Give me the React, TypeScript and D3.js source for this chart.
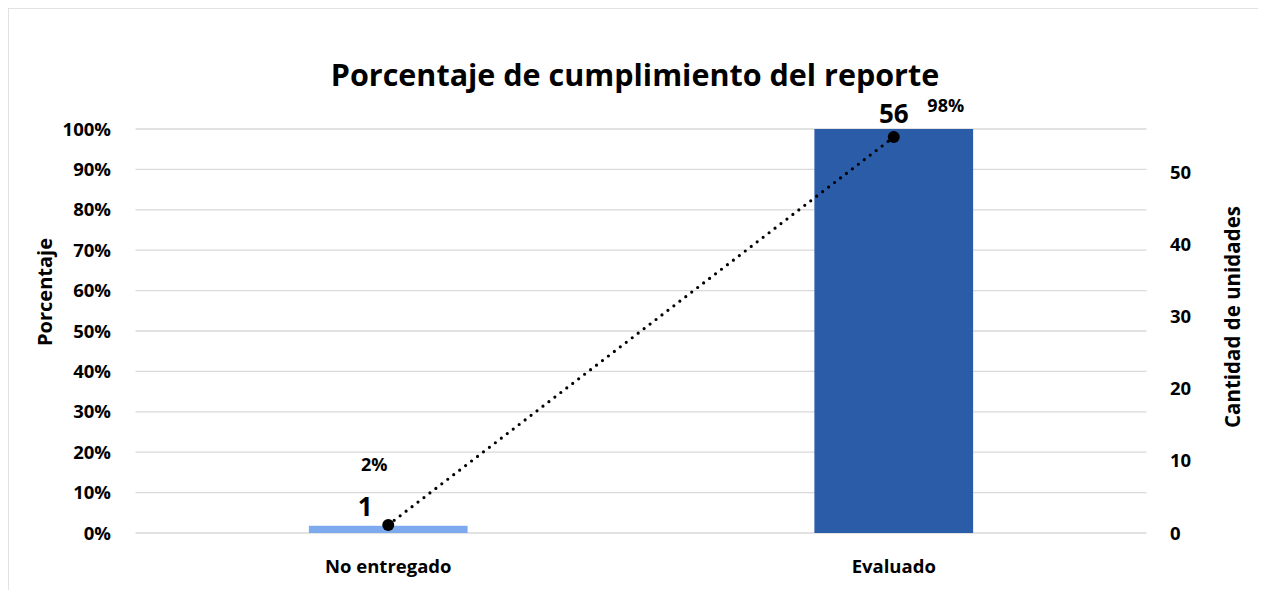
import React from "react";
import * as d3 from "d3";

const categories = ["No entregado", "Evaluado"];
const units = [1, 56];
const percents = [0.02, 0.98];
const unitLabels = ["1", "56"];
const percentLabels = ["2%", "98%"];
const barColors = ["#7DAAEF", "#2A5CA8"];
const leftTicks = [0, 0.1, 0.2, 0.3, 0.4, 0.5, 0.6, 0.7, 0.8, 0.9, 1.0];
const rightTicks = [0, 10, 20, 30, 40, 50];

const W = 1258;
const H = 600;
const FONT = "'Open Sans', sans-serif";

export default function App() {
  const ox = 8;
  const left = 135.5 - ox;
  const right = 1146.5 - ox;
  const top = 129 - 8;
  const bottom = 533 - 8;

  const x = d3.scaleBand<string>().domain(categories).range([left, right]).paddingInner(0.686).paddingOuter(0.343);
  const yPct = d3.scaleLinear().domain([0, 1]).range([bottom, top]);
  const yUnits = d3.scaleLinear().domain([0, 56]).range([bottom, top]);

  const line = d3
    .line<number>()
    .x((_, i) => (x(categories[i]) as number) + x.bandwidth() / 2)
    .y((d) => yPct(d));

  const pctFmt = d3.format(".0%");

  const unitOff = [[-23, -9], [0, -14]];
  const pctOff = [[-14, -54], [52, -25]];

  return (
    <svg width={W} height={H} style={{ display: "block" }}>
      <rect x={0} y={0} width={W} height={H} fill="#fff" />
      <line x1={0} y1={0} x2={0} y2={H} stroke="#d9d9d9" strokeWidth={1.5} />
      <line x1={0} y1={0} x2={W} y2={0} stroke="#d9d9d9" strokeWidth={1.5} />
      <text x={627} y={78} textAnchor="middle" fontFamily={FONT} fontWeight="bold" fontSize={30.5} fill="#000">
        Porcentaje de cumplimiento del reporte
      </text>
      {leftTicks.map((t) => (
        <g key={t}>
          <line x1={left} x2={right} y1={yPct(t)} y2={yPct(t)} stroke="#d9d9d9" strokeWidth={1.3} />
          <text x={103} y={yPct(t) + 6.5} textAnchor="end" fontFamily={FONT} fontWeight="bold" fontSize={18.5} fill="#000">
            {pctFmt(t)}
          </text>
        </g>
      ))}
      {rightTicks.map((t) => (
        <text key={t} x={1162} y={yUnits(t) + 6.5} textAnchor="start" fontFamily={FONT} fontWeight="bold" fontSize={18.5} fill="#000">
          {t}
        </text>
      ))}
      {categories.map((c, i) => (
        <rect key={c} x={x(c)} y={yUnits(units[i])} width={x.bandwidth()} height={bottom - yUnits(units[i])} fill={barColors[i]} />
      ))}
      {categories.map((c) => (
        <text key={c} x={(x(c) as number) + x.bandwidth() / 2} y={565} textAnchor="middle" fontFamily={FONT} fontWeight="bold" fontSize={18.5} fill="#000">
          {c}
        </text>
      ))}
      <path d={line(percents) || ""} fill="none" stroke="#000" strokeWidth={3.2} strokeDasharray="0 7.5" strokeLinecap="round" />
      {percents.map((p, i) => {
        const cx = (x(categories[i]) as number) + x.bandwidth() / 2;
        const cy = yPct(p);
        return (
          <g key={i}>
            <circle cx={cx} cy={cy} r={6} fill="#000" />
            <text x={cx + unitOff[i][0]} y={cy + unitOff[i][1]} textAnchor="middle" fontFamily={FONT} fontWeight="bold" fontSize={26} fill="#000">
              {unitLabels[i]}
            </text>
            <text x={cx + pctOff[i][0]} y={cy + pctOff[i][1]} textAnchor="middle" fontFamily={FONT} fontWeight="bold" fontSize={18} fill="#000">
              {percentLabels[i]}
            </text>
          </g>
        );
      })}
      <text transform={`translate(44, 284) rotate(-90)`} textAnchor="middle" fontFamily={FONT} fontWeight="bold" fontSize={20} fill="#000">
        Porcentaje
      </text>
      <text transform={`translate(1232, 309) rotate(-90)`} textAnchor="middle" fontFamily={FONT} fontWeight="bold" fontSize={20.5} fill="#000">
        Cantidad de unidades
      </text>
    </svg>
  );
}
